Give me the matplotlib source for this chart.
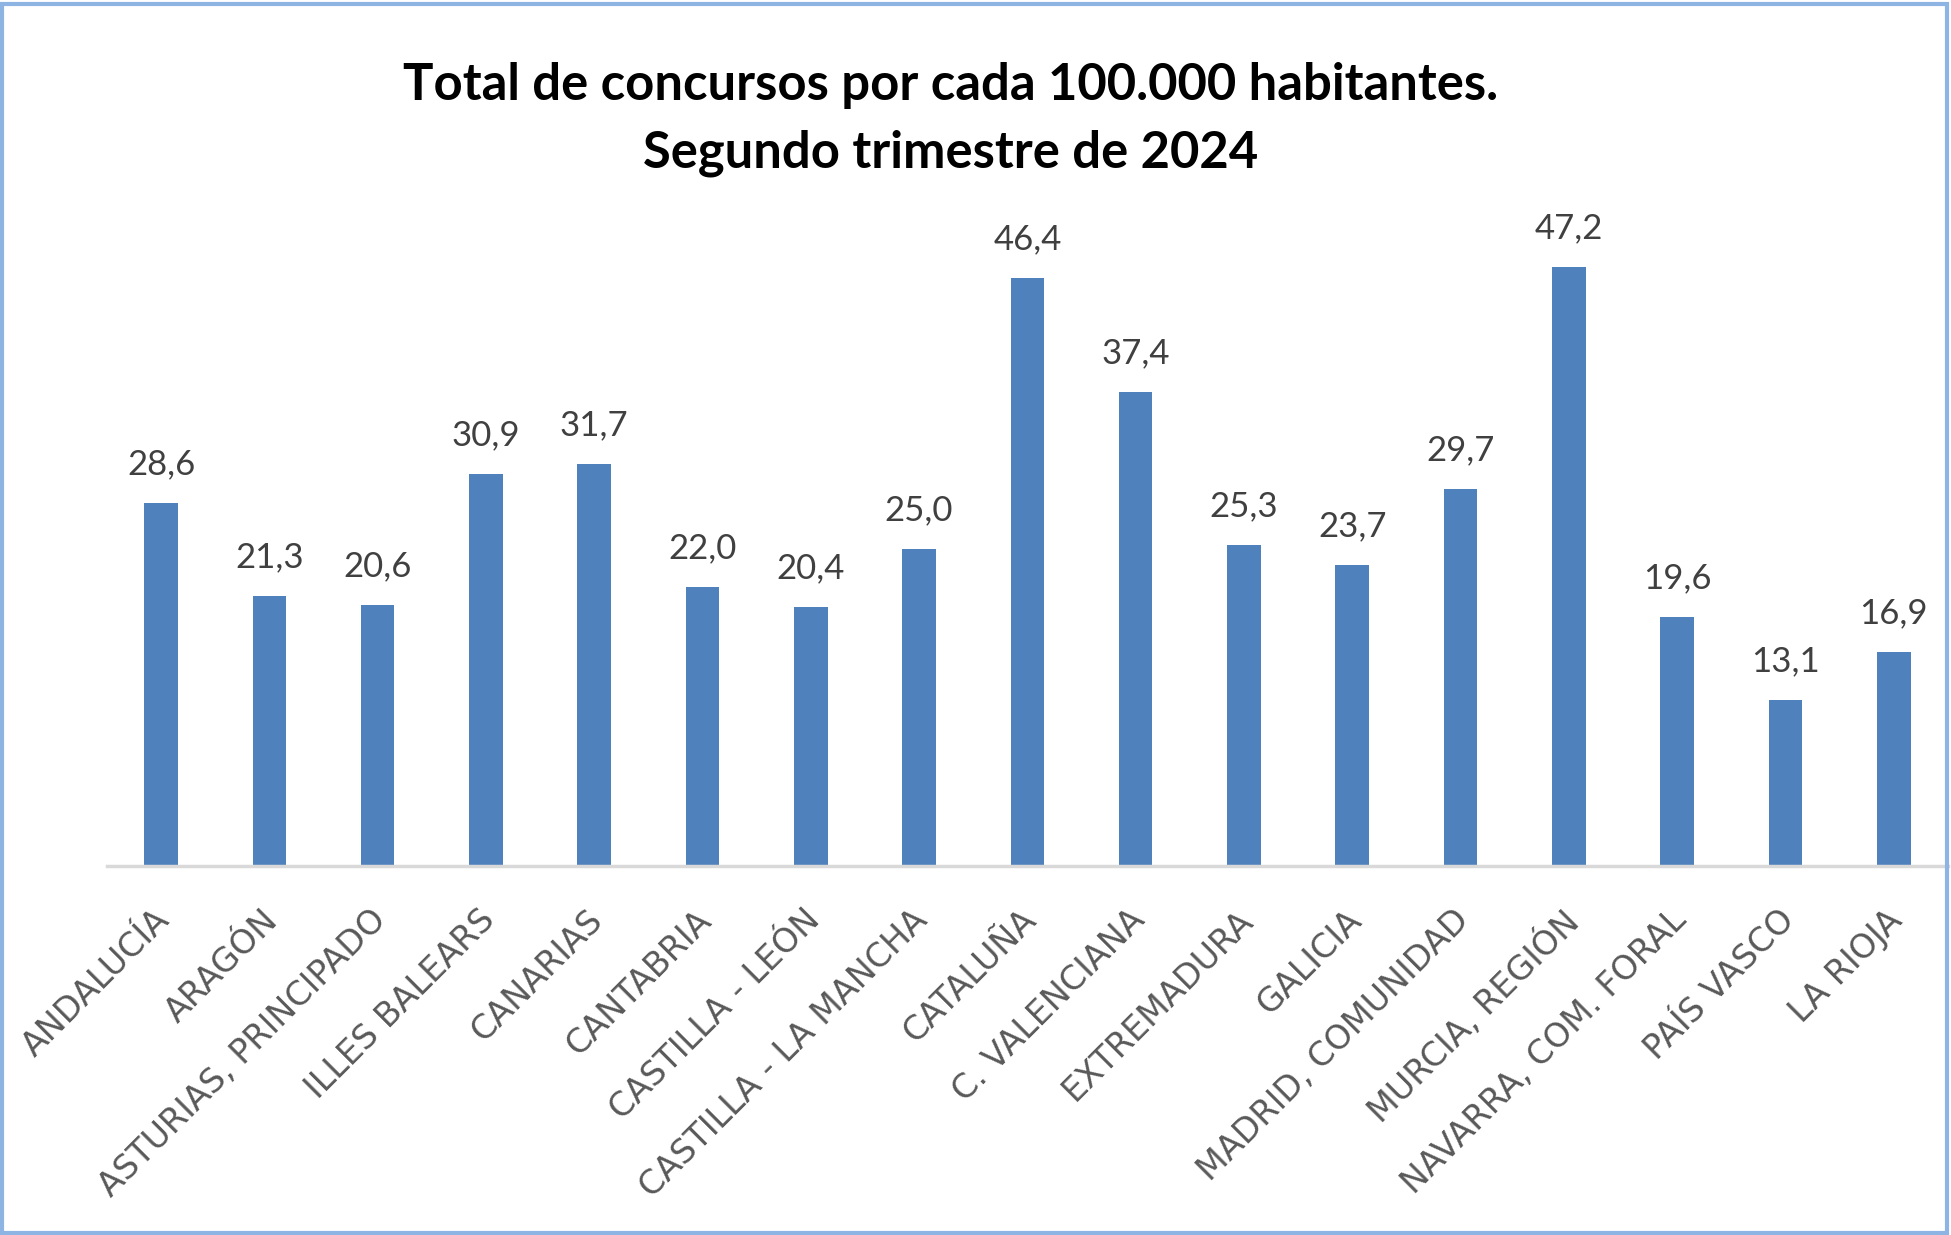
import matplotlib.pyplot as plt
from matplotlib.patches import Rectangle
from matplotlib.transforms import ScaledTranslation

# Concursos por cada 100.000 habitantes, 2T 2024
regiones = ["ANDALUCÍA", "ARAGÓN", "ASTURIAS, PRINCIPADO", "ILLES BALEARS",
            "CANARIAS", "CANTABRIA", "CASTILLA - LEÓN", "CASTILLA - LA MANCHA",
            "CATALUÑA", "C. VALENCIANA", "EXTREMADURA", "GALICIA",
            "MADRID, COMUNIDAD", "MURCIA, REGIÓN", "NAVARRA, COM. FORAL",
            "PAÍS VASCO", "LA RIOJA"]
valores = [28.6, 21.3, 20.6, 30.9, 31.7, 22.0, 20.4, 25.0, 46.4, 37.4,
           25.3, 23.7, 29.7, 47.2, 19.6, 13.1, 16.9]

fig = plt.figure(figsize=(19.51, 12.35), dpi=100)
ax = fig.add_axes([0.0548, 0.2988, 0.9436, 0.5134])

x = range(len(regiones))
ax.bar(x, valores, width=0.31, color="#4F81BD")

for xi, v in zip(x, valores):
    ax.text(xi, v + 1.8, f"{v:.1f}".replace(".", ","), ha="center", va="bottom",
            fontsize=25, color="#404040", family="Lato")

ax.set_xlim(-0.5, len(regiones) - 0.5)
ax.set_ylim(0, 50)
ax.set_yticks([])
for s in ["top", "right", "left"]:
    ax.spines[s].set_visible(False)
ax.spines["bottom"].set_color("#D9D9D9")
ax.spines["bottom"].set_linewidth(2.5)

ax.set_xticks(list(x))
ax.set_xticklabels(regiones, rotation=45, ha="right", va="top",
                   rotation_mode="anchor", fontsize=24, color="#595959",
                   family="DejaVu Sans")
ax.tick_params(axis="x", length=0, pad=27)
desp = ScaledTranslation(-8 / 100, 0, fig.dpi_scale_trans)
for lbl in ax.get_xticklabels():
    lbl.set_transform(lbl.get_transform() + desp)

fig.text(0.487, 0.931, "Total de concursos por cada 100.000 habitantes.",
         ha="center", va="center", fontsize=36.5, fontweight="bold", family="Lato")
fig.text(0.487, 0.876, "Segundo trimestre de 2024",
         ha="center", va="center", fontsize=36.5, fontweight="bold", family="Lato")

fig.patches.append(Rectangle((0.001, 0.002), 0.997, 0.995, transform=fig.transFigure,
                             fill=False, edgecolor="#8DB4E2", linewidth=3))

fig.savefig("out.png", dpi=100)
